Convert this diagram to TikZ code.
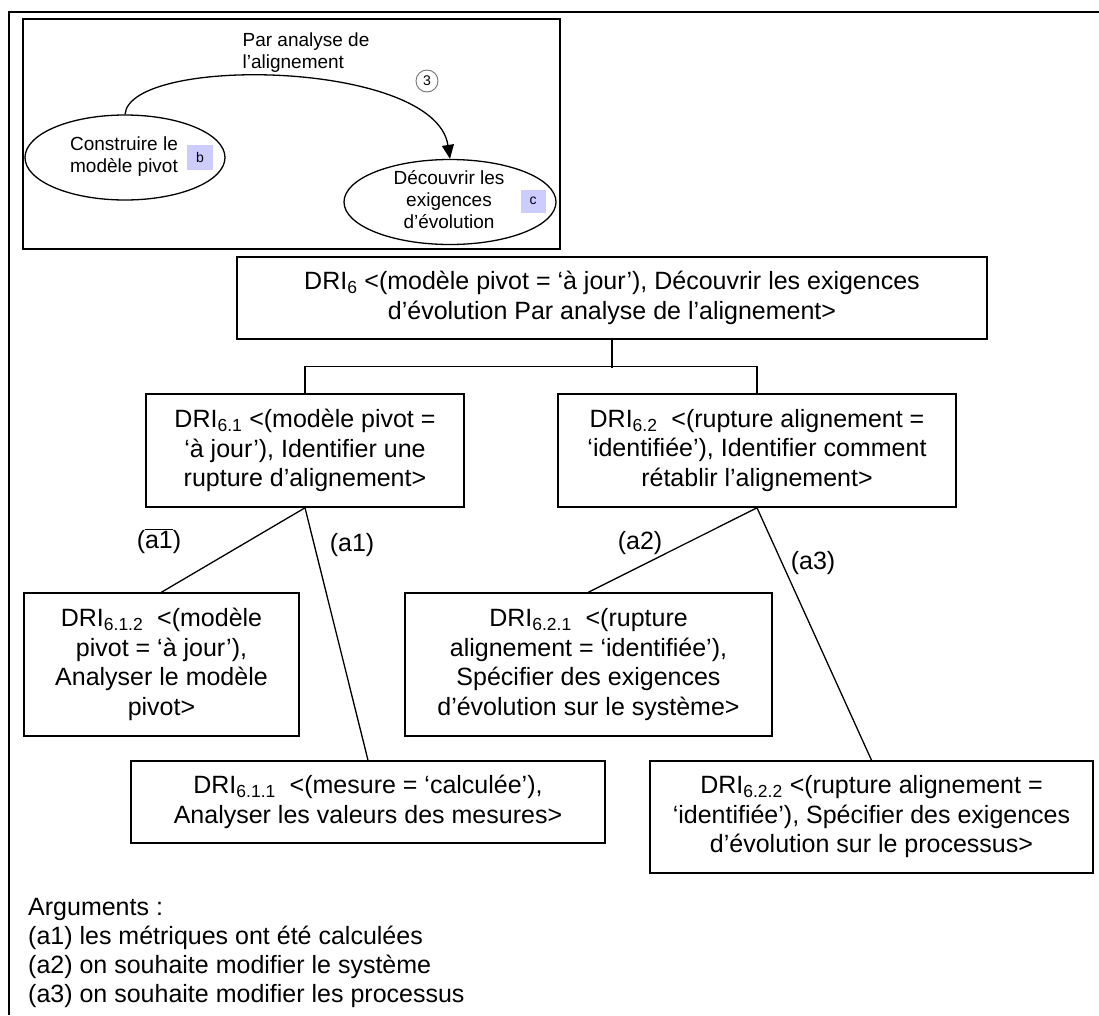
\documentclass[tikz,border=0pt]{standalone}
\usepackage{fontspec}
\setmainfont{Liberation Sans}
\usetikzlibrary{arrows.meta,shapes.geometric}
\definecolor{lav}{RGB}{204,204,255}
\begin{document}
\begin{tikzpicture}[x=1pt,y=-1pt,
  box/.style={draw, line width=1.6pt, inner sep=0pt, align=center,
              font=\fontsize{25}{29.5}\selectfont},
  conn/.style={line width=1.3pt},
  lbl/.style={inner sep=0pt, font=\fontsize{25}{29.5}\selectfont},
  small/.style={inner sep=0pt, align=center, font=\fontsize{19}{22}\selectfont},
  oval/.style={ellipse, draw, line width=1.3pt, inner sep=0pt},
  tag/.style={fill=lav, inner sep=0pt, font=\fontsize{14}{14}\selectfont}
]
\useasboundingbox (0,0) rectangle (1099,1015);

% outer frame (only top and left visible)
\draw[line width=2pt] (1099,12) -- (9,12) -- (9,1015);

% inset diagram
\draw[line width=2pt] (23,19) rectangle (560,249);
\node[small, align=left] (lab) at (306,53) {Par analyse de\\l’alignement};
\node[circle, draw=black!55, line width=0.9pt, inner sep=0pt, minimum size=22pt,
      font=\fontsize{14}{14}\selectfont] (c3) at (427,81) {3};
\node[oval, minimum width=200pt, minimum height=85pt] (e1) at (125,157.5) {};
\node[small] (t1) at (124,157) {Construire le\\modèle pivot};
\node[tag, minimum width=26pt, minimum height=25pt] (sb) at (200,157) {b};
\node[oval, minimum width=212pt, minimum height=85pt] (e2) at (450,202) {};
\node[small] (t2) at (449,200) {Découvrir les\\exigences\\d’évolution};
\node[tag, minimum width=25pt, minimum height=23pt] (sc) at (533,201) {c};
\draw[line width=1.3pt, -{Triangle[length=14pt,width=12pt]}]
  (e1.north) .. controls (130,55) and (435,60) .. (e2.north);

% main tree
\node[box, minimum width=750pt, minimum height=82pt] (n6) at (612,298)
  {DRI\textsubscript{6} <(modèle pivot = ‘à jour’), Découvrir les exigences\\d’évolution Par analyse de l’alignement>};
\node[box, minimum width=318pt, minimum height=113pt] (n61) at (305,450.5)
  {DRI\textsubscript{6.1} <(modèle pivot =\\‘à jour’), Identifier une\\rupture d’alignement>};
\node[box, minimum width=398pt, minimum height=113pt] (n62) at (757,450.5)
  {DRI\textsubscript{6.2}\ \ <(rupture alignement =\\‘identifiée’), Identifier comment\\rétablir l’alignement>};
\node[box, minimum width=275pt, minimum height=143pt] (n612) at (161.5,664.5)
  {DRI\textsubscript{6.1.2}\ \ <(modèle\\pivot = ‘à jour’),\\Analyser le modèle\\pivot>};
\node[box, minimum width=367pt, minimum height=143pt] (n621) at (588.5,664.5)
  {DRI\textsubscript{6.2.1}\ \ <(rupture\\alignement = ‘identifiée’),\\Spécifier des exigences\\d’évolution sur le système>};
\node[box, minimum width=474pt, minimum height=82pt] (n611) at (368,802)
  {DRI\textsubscript{6.1.1}\ \ <(mesure = ‘calculée’),\\Analyser les valeurs des mesures>};
\node[box, minimum width=443pt, minimum height=112pt] (n622) at (871.5,817)
  {DRI\textsubscript{6.2.2} <(rupture alignement =\\‘identifiée’), Spécifier des exigences\\d’évolution sur le processus>};

\draw[conn] (n6.south) -- ++(0,28);
\draw[conn] (n61.north) -- ++(0,-27) -| (n62.north);
\draw[conn] (n61.south) -- (n612.north);
\draw[conn] (n61.south) -- (n611.north);
\draw[conn] (n62.south) -- (n621.north);
\draw[conn] (n62.south) -- (n622.north);

\node[lbl] (l1b) at (159,541) {(\(\overline{\mbox{a1}}\))};
\node[lbl] (l1) at (352,545) {(a1)};
\node[lbl] (l2) at (640,543) {(a2)};
\node[lbl] (l3) at (813,563) {(a3)};

% legend
\node[lbl, anchor=base west] (g0) at (28,915) {Arguments :};
\node[lbl, anchor=base west] (g1) at (28,944) {(a1) les métriques ont été calculées};
\node[lbl, anchor=base west] (g2) at (28,973) {(a2) on souhaite modifier le système};
\node[lbl, anchor=base west] (g3) at (28,1002) {(a3) on souhaite modifier les processus};
\end{tikzpicture}
\end{document}
